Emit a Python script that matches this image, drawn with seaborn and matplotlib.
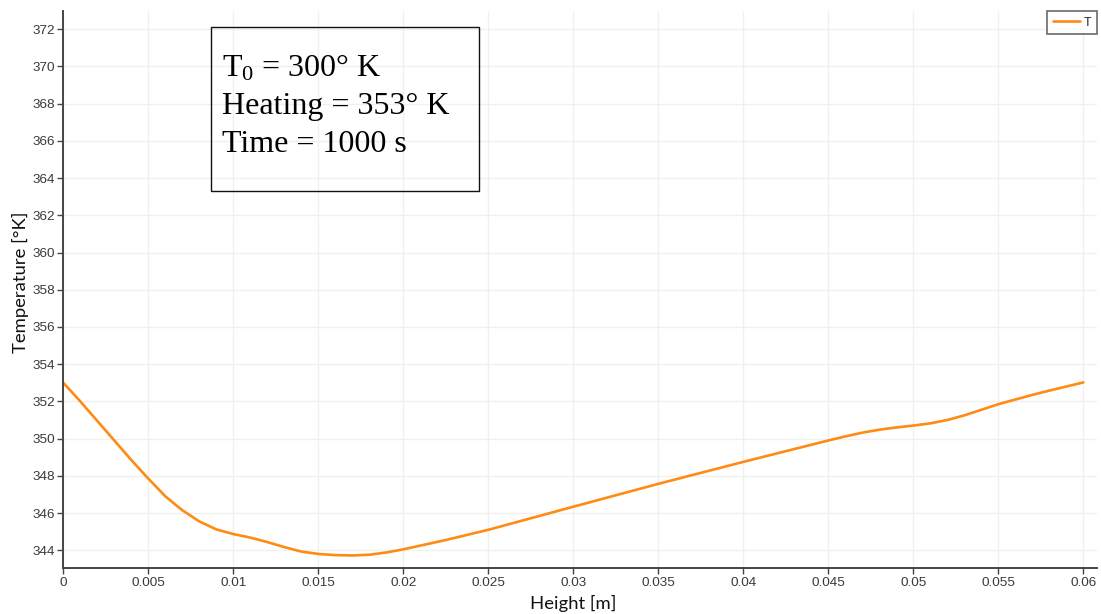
import matplotlib
matplotlib.use("Agg")
import matplotlib.pyplot as plt
from matplotlib.patches import Rectangle
import seaborn as sns
import pandas as pd

# Temperature profile along the height of the domain
height = [0.000, 0.001, 0.002, 0.003, 0.004, 0.005, 0.006, 0.007, 0.008, 0.009,
          0.010, 0.011, 0.012, 0.013, 0.014, 0.015, 0.016, 0.017, 0.018, 0.019,
          0.020, 0.0225, 0.025, 0.0275, 0.030, 0.035, 0.040, 0.045, 0.046, 0.047,
          0.048, 0.049, 0.050, 0.051, 0.052, 0.053, 0.054, 0.055, 0.056, 0.057,
          0.058, 0.059, 0.060]
temperature = [353.0, 352.0, 350.95, 349.9, 348.85, 347.85, 346.9, 346.15, 345.55, 345.12,
               344.87, 344.68, 344.44, 344.17, 343.93, 343.8, 343.74, 343.72, 343.76, 343.88,
               344.05, 344.55, 345.1, 345.72, 346.34, 347.57, 348.75, 349.9, 350.12, 350.32,
               350.48, 350.6, 350.7, 350.82, 351.0, 351.25, 351.55, 351.85, 352.1, 352.35,
               352.58, 352.8, 353.02]

x_ticks = [0, 0.005, 0.01, 0.015, 0.02, 0.025, 0.03, 0.035, 0.04, 0.045, 0.05, 0.055, 0.06]
x_tick_labels = ["0", "0.005", "0.01", "0.015", "0.02", "0.025", "0.03", "0.035",
                 "0.04", "0.045", "0.05", "0.055", "0.06"]
y_ticks = list(range(344, 373, 2))

info_lines = [r"$\mathrm{T}_{\mathrm{0}}$ = 300° K", "Heating = 353° K", "Time = 1000 s"]

df = pd.DataFrame({"Height": height, "T": temperature})

sns.set_theme(style="white")
plt.rcParams["font.family"] = ["Liberation Sans", "DejaVu Sans"]
plt.rcParams["mathtext.fontset"] = "custom"
plt.rcParams["mathtext.rm"] = "Liberation Serif"
plt.rcParams["mathtext.it"] = "Liberation Serif:italic"

W, H = 1101, 614
fig = plt.figure(figsize=(W / 100, H / 100), dpi=100)
ax = fig.add_axes([63.3 / W, 1 - 568.3 / H, (1097 - 63.3) / W, (568.3 - 11) / H])

sns.lineplot(data=df, x="Height", y="T", ax=ax, color="#ff8a14", linewidth=1.9,
             label="T", sort=False)

ax.set_xlim(0, 0.0608)
ax.set_ylim(343.03, 372.98)
ax.set_xticks(x_ticks)
ax.set_xticklabels(x_tick_labels)
ax.set_yticks(y_ticks)
ax.set_yticklabels([str(v) for v in y_ticks])

ax.grid(True, color="#f0f0f0", linewidth=1.0)
for side in ("top", "right"):
    ax.spines[side].set_visible(False)
for side in ("left", "bottom"):
    ax.spines[side].set_color("#444444")
    ax.spines[side].set_linewidth(1.4)

ax.tick_params(axis="both", which="major", direction="out", length=4, width=1,
               color="#444444", labelsize=9.7, labelcolor="#3a3a3a", pad=2,
               left=True, bottom=True)

label_font = dict(family=["Lato", "DejaVu Sans"], size=13.3, color="#111111")
ax.set_xlabel("Height [m]", **label_font)
ax.set_ylabel("Temperature [\u00b0K]", **label_font)
ax.xaxis.set_label_coords((573 - 63.3) / (1097 - 63.3), -(603 - 568.3) / (568.3 - 11))
ax.xaxis.label.set_va("center")
ax.yaxis.set_label_coords(-(63.3 - 20) / (1097 - 63.3), (568.3 - 282) / (568.3 - 11))
ax.yaxis.label.set_va("center")

leg = ax.legend(loc="upper right", bbox_to_anchor=(1.0, 1.0), fontsize=9,
                handlelength=2.2, handletextpad=0.3, borderpad=0.45,
                borderaxespad=0.0, fancybox=False, frameon=True)
leg.get_frame().set_edgecolor("#444444")
leg.get_frame().set_linewidth(1.2)

# Simulation parameters box
box = Rectangle((211 / W, 1 - 190.7 / H), (479.3 - 211) / W, (190.7 - 26.7) / H,
                transform=fig.transFigure, fill=False, edgecolor="#111111",
                linewidth=1.0, zorder=5)
fig.patches.append(box)
for i, line in enumerate(info_lines):
    baseline = 76.7 + 37.5 * i
    fig.text(222.5 / W, 1 - baseline / H, line, ha="left", va="baseline",
             family=["Liberation Serif", "DejaVu Serif"], size=23, color="black")

fig.savefig("out.png", dpi=100)
